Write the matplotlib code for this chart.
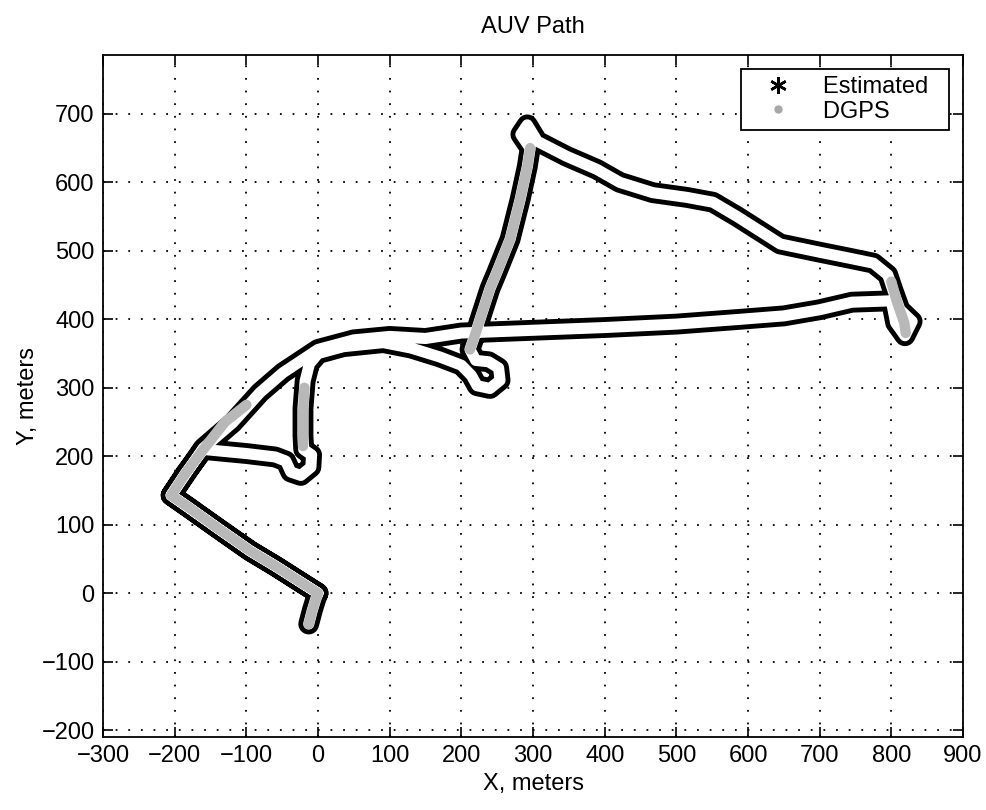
import matplotlib.pyplot as plt
import matplotlib.patheffects as pe
from matplotlib.lines import Line2D
import numpy as np

plt.rcParams['font.family'] = ['Liberation Sans', 'DejaVu Sans']

# estimated vehicle track, in order (meters)
EST_X = [-13, -8, -3, 0, -60, -95, -140, -180, -205, -185, -160,
         -100, -60, -45, -38, -24, -10, -9, -20,
         -21, -21, -18, -12, 0, 35, 91, 130, 170, 200,
         214, 222, 240, 254, 252, 238, 220, 212, 220, 226, 240, 250, 268, 282, 292, 296,
         283, 292, 306, 347, 389, 421, 467, 515, 551, 585, 615, 645, 700, 738, 775,
         795, 802, 812, 829, 819, 806, 800, 745, 700, 650, 589, 500, 400, 300, 226,
         200, 150, 100, 50, 0, -49, -81, -119, -160, -205, -140, -95, -60, 0]
EST_Y = [-45, -25, -8, 0, 40, 62, 95, 125, 143, 175, 210,
         204, 199, 193, 177, 172, 184, 202, 210,
         230, 270, 310, 335, 350, 360, 366, 358, 345, 333,
         318, 303, 299, 311, 329, 338, 340, 356, 380, 400, 445, 470, 517, 575, 623, 650,
         670, 684, 660, 638, 619, 600, 585, 578, 571, 550, 530, 510, 498, 490, 482,
         465, 443, 414, 397, 376, 395, 427, 425, 414, 405, 400, 393, 388, 384, 381,
         380, 372, 375, 370, 356, 322, 293, 249, 212, 143, 95, 62, 40, 0]

# DGPS fixes, available only on some legs (NaN separates legs)
DGPS_X = [-13, -8, -3, 0, -60, -95, -140, -180, -205, -185, -160, -130, -100, np.nan,
          -21, -21, -19, np.nan,
          212, 220, 226, 240, 250, 268, 282, 292, 296, np.nan,
          800, 808, 818, 820]
DGPS_Y = [-45, -25, -8, 0, 40, 62, 95, 125, 143, 175, 210, 250, 275, np.nan,
          215, 260, 300, np.nan,
          356, 380, 400, 445, 470, 517, 575, 623, 650, np.nan,
          455, 425, 395, 380]

X_TICKS = list(range(-300, 901, 100))
Y_TICKS = list(range(-200, 701, 100))

fig = plt.figure(figsize=(9.87, 8.10), dpi=100)
ax = fig.add_axes([0.1044, 0.0901, 0.8713, 0.8420])

ax.plot(EST_X, EST_Y, color='white', lw=8, solid_joinstyle='round',
        solid_capstyle='round', zorder=3,
        path_effects=[pe.Stroke(linewidth=15, foreground='black',
                                joinstyle='round', capstyle='round'),
                      pe.Normal()])
ax.plot(DGPS_X, DGPS_Y, color='#b8b8b8', lw=7.5, solid_joinstyle='round',
        solid_capstyle='round', zorder=4)

ax.set_xlim(-300, 900)
ax.set_ylim(-210, 786)
ax.set_xticks(X_TICKS)
ax.set_yticks(Y_TICKS)
ax.grid(True, color='black', ls=(0, (1, 6)), lw=1.3)
ax.set_axisbelow(True)
ax.tick_params(direction='in', top=True, right=True, length=7, width=1.2,
               labelsize=17, pad=6)
for s in ax.spines.values():
    s.set_linewidth(1.3)

ax.set_title('AUV Path', fontsize=17, pad=16)
ax.set_xlabel('X, meters', fontsize=17, labelpad=4)
ax.set_ylabel('Y, meters', fontsize=17, labelpad=2)

handles = [Line2D([], [], ls='none', marker=(6, 2, 0), color='black', ms=12,
                  mew=1.8),
           Line2D([], [], ls='none', marker='.', color='#a8a8a8', ms=10)]
leg = ax.legend(handles, ['Estimated', 'DGPS'], loc='upper right', fontsize=17,
                frameon=True, fancybox=False, framealpha=1, edgecolor='black',
                borderpad=0.3, handlelength=2.6, handletextpad=0.6,
                labelspacing=0.1, borderaxespad=0.6)
leg.get_frame().set_linewidth(1.3)
# a little extra room on the right of the legend labels
for t in leg.get_texts():
    t.set_text(t.get_text() + '  ')

fig.savefig('out.png', dpi=100)
